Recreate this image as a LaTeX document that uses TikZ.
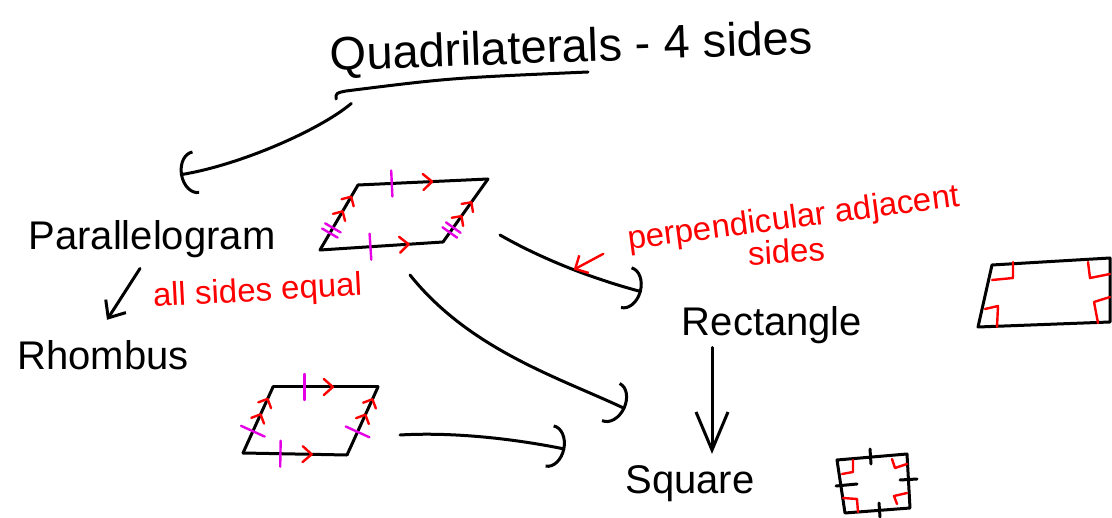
\documentclass[tikz,border=0pt]{standalone}
\usepackage{fontspec}
\setmainfont{Liberation Sans}
\usetikzlibrary{positioning, arrows.meta, calc}
\definecolor{penred}{RGB}{255, 0, 0}
\definecolor{penmag}{RGB}{230, 0, 230}
\tikzset{
  ink/.style={line width=3pt, line cap=round, line join=round, black},
  redink/.style={line width=2.4pt, line cap=round, line join=round, penred},
  magink/.style={line width=2.4pt, line cap=round, penmag},
  word/.style={inner sep=0pt, anchor=base, font=\fontsize{40}{40}\selectfont},
  note/.style={inner sep=0pt, anchor=base, text=penred, font=\fontsize{33}{33}\selectfont},
  curvy/.style={ink, -{Arc Barb[length=16pt, width=44pt]}},
  vee/.style={ink, -{Straight Barb[length=14pt, width=24pt]}},
  tickmark/.pic={\draw[magink] (0,-13) -- (0,13);},
  dtickmark/.pic={\draw[magink] (-3,-9) -- (-3,9) (3,-9) -- (3,9);},
  arrowmark/.pic={\draw[redink] (-9,-8) -- (0,0) -- (-9,8);},
  dchevmark/.pic={\draw[redink] (-7,-7) -- (0,0) -- (-7,7) (-24,-7) -- (-17,0) -- (-24,7);},
}

\begin{document}
\begin{tikzpicture}[x=1pt, y=-1pt]
    \useasboundingbox (0,0) rectangle (1112,518);
    % names
    \node[word, rotate=2, font=\fontsize{47}{47}\selectfont] (title) at (572,62) {Quadrilaterals - 4 sides};
    \node[word] (para) at (152,250) {Parallelogram};
    \node[word] (rhombus) at (103,370) {Rhombus};
    \node[word] (rect) at (772,336) {Rectangle};
    \node[word] (square) at (690,494) {Square};
    % red notes
    \node[note, rotate=3] (allsides) at (258,301) {all sides equal};
    \node[note, rotate=7.5] (perp) at (795,228) {perpendicular adjacent};
    \node[note, rotate=3] (perpb) at (787,263) {sides};
    \draw[ink] (336,99) .. controls (336,93) .. (346,91) .. controls (450,78) .. (588,72);
    % figures
    \coordinate (parfig) at (404,214);
    \coordinate (rhombfig) at (310,420);
    \draw[ink] (320,250) -- (443,242) pic[pos=.41, sloped]{tickmark} pic[pos=.72, sloped]{arrowmark};
    \draw[ink] (443,242) -- (488,179) pic[pos=.19, sloped]{dtickmark} pic[pos=.63, sloped]{dchevmark};
    \draw[ink] (358,185) -- (488,179) pic[pos=.26, sloped]{tickmark} pic[pos=.57, sloped]{arrowmark};
    \draw[ink] (320,250) -- (358,185) pic[pos=.3, sloped]{dtickmark} pic[pos=.82, sloped]{dchevmark};
    \draw[ink] (273,387) -- (378,387) pic[pos=.3, sloped]{tickmark} pic[pos=.57, sloped]{arrowmark};
    \draw[ink] (243,453) -- (347,455) pic[pos=.36, sloped]{tickmark} pic[pos=.66, sloped]{arrowmark};
    \draw[ink] (243,453) -- (273,387) pic[pos=.33, sloped]{tickmark} pic[pos=.82, sloped]{dchevmark};
    \draw[ink] (347,455) -- (378,387) pic[pos=.34, sloped]{tickmark} pic[pos=.82, sloped]{dchevmark};
    \draw[ink] (1110,258) -- (992,265) -- (978,327) -- (1110,322) -- cycle;
    \draw[redink] (1013,262) -- (1013,278) -- (992,280);
    \draw[redink] (1088,262) -- (1090,278) -- (1110,274);
    \draw[redink] (985,309) -- (998,306) -- (997,327);
    \draw[redink] (1110,297) -- (1094,302) -- (1098,323);
    \draw[ink] (837,460) -- (907,454) -- (910,508) -- (845,513) -- cycle;
    \draw[ink] (870,449) -- (871,464) (879,503) -- (880,517) (836,486) -- (857,484) (900,480) -- (917,479);
    \draw[redink] (853,460) -- (853,472) -- (842,474);
    \draw[redink] (892,459) -- (895,468) -- (907,464);
    \draw[redink] (843,498) -- (857,499) -- (858,512);
    \draw[redink] (907,493) -- (894,496) -- (897,504);
    % arrows
    \draw[curvy] ([shift={(21,33)}]title.base west) .. controls (320,130) and (240,165) .. ([shift={(28,-46)}]para.north);
    \draw[vee] ([shift={(-12,10)}]para.south) -- ([shift={(4,-21)}]rhombus.north);
    \draw[curvy] ([shift={(96,21)}]parfig) .. controls (540,258) and (590,278) .. ([shift={(-40,-15)}]rect.north west) coordinate[pos=.55] (a3pt);
    \draw[curvy] ([shift={(6,61)}]parfig) .. controls (470,350) and (560,378) .. ([shift={(0,-57)}]square.north west);
    \draw[curvy] ([shift={(90,15)}]rhombfig) .. controls (450,432) and (510,438) .. ([shift={(-60,-35)}]square.west);
    \draw[ink, -{Straight Barb[length=38pt, width=32pt]}] ([shift={(-60,3)}]rect.south) -- ([shift={(22,-12)}]square.north);
    \draw[redink, -{Straight Barb[length=10pt, width=20pt]}] ([shift={(-26,4)}]perp.base west) -- (a3pt);
\end{tikzpicture}
\end{document}
